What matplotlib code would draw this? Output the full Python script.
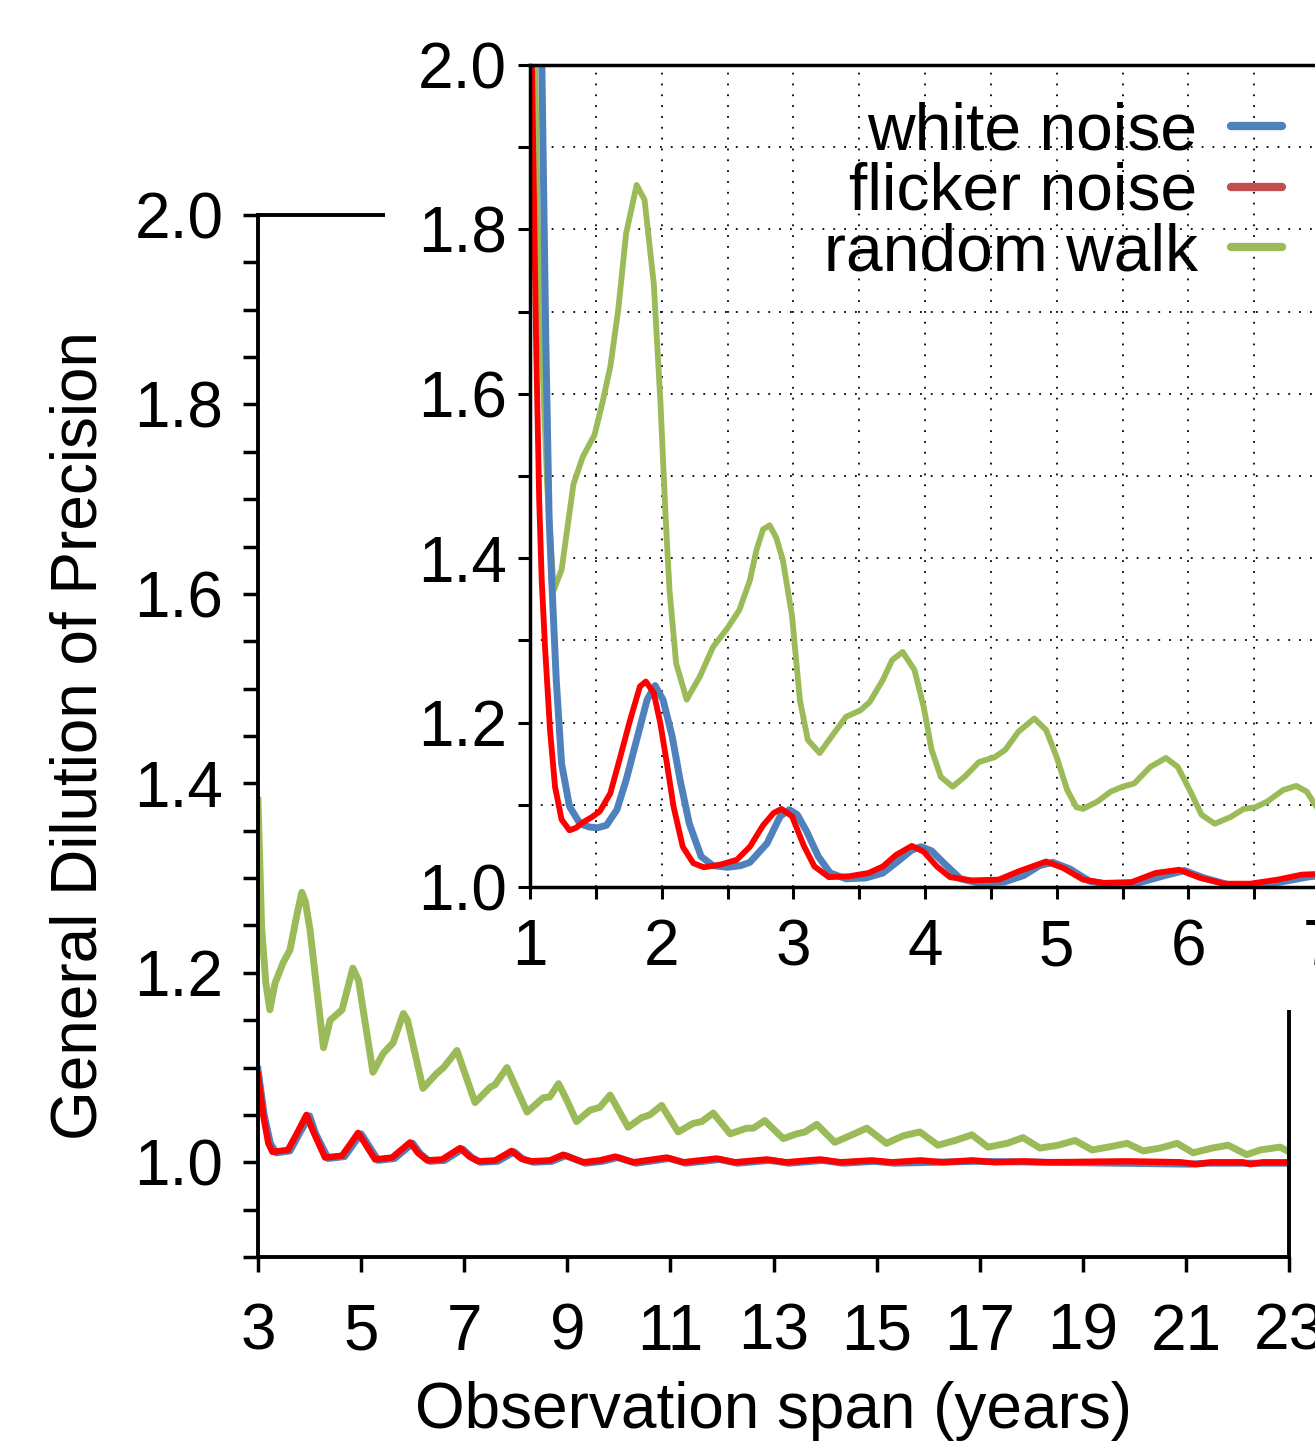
import matplotlib
matplotlib.use('Agg')
import matplotlib.pyplot as plt
from matplotlib.lines import Line2D
from matplotlib.patches import Rectangle
from matplotlib.ticker import MultipleLocator, FixedLocator

plt.rcParams['font.family'] = ['Liberation Sans', 'DejaVu Sans']
plt.rcParams['font.size'] = 46

labels = ['white noise', 'flicker noise', 'random walk']
line_colors = ['#4F81BD', '#FF0000', '#9BBB59']
legend_colors = ['#4F81BD', '#C0504D', '#9BBB59']

# ---- main panel (observation span 3-23 years) ----
main_green_x = [3.00, 3.07, 3.15, 3.23, 3.33, 3.49, 3.62, 3.75, 3.85, 3.92, 4.01, 4.27, 4.40, 4.63,
                4.84, 4.95, 5.23, 5.43, 5.62, 5.82, 5.90, 6.20, 6.47, 6.60, 6.86, 7.21, 7.50, 7.60,
                7.83, 8.22, 8.53, 8.66, 8.83, 8.96, 9.18, 9.44, 9.63, 9.83, 10.18, 10.44, 10.60,
                10.83, 11.15, 11.44, 11.61, 11.83, 12.16, 12.48, 12.61, 12.83, 13.19, 13.45, 13.61,
                13.84, 14.19, 14.48, 14.81, 15.19, 15.52, 15.84, 16.19, 16.52, 16.85, 17.16, 17.53,
                17.84, 18.17, 18.52, 18.85, 19.18, 19.49, 19.86, 20.17, 20.50, 20.83, 21.14, 21.51,
                21.82, 22.18, 22.44, 22.83, 23.00]
main_green_y = [1.382, 1.248, 1.190, 1.161, 1.189, 1.211, 1.224, 1.260, 1.285, 1.275, 1.245, 1.121,
                1.150, 1.161, 1.205, 1.192, 1.095, 1.115, 1.126, 1.157, 1.150, 1.078, 1.094, 1.100,
                1.118, 1.063, 1.079, 1.082, 1.100, 1.053, 1.068, 1.069, 1.083, 1.069, 1.043, 1.055,
                1.058, 1.071, 1.037, 1.047, 1.050, 1.060, 1.032, 1.041, 1.043, 1.052, 1.030, 1.036,
                1.036, 1.044, 1.025, 1.030, 1.032, 1.040, 1.021, 1.028, 1.036, 1.020, 1.028, 1.032,
                1.018, 1.023, 1.029, 1.016, 1.020, 1.026, 1.015, 1.018, 1.023, 1.013, 1.016, 1.020,
                1.012, 1.015, 1.020, 1.010, 1.015, 1.018, 1.008, 1.013, 1.016, 1.011]

main_red_x = [3.00, 3.10, 3.20, 3.28, 3.58, 3.75, 3.94, 4.05, 4.30, 4.63, 4.80, 4.94, 5.05, 5.27,
              5.60, 5.95, 6.10, 6.28, 6.57, 6.92, 7.10, 7.27, 7.60, 7.92, 8.10, 8.30, 8.66, 8.92,
              9.31, 9.63, 9.93, 10.28, 10.93, 11.25, 11.90, 12.25, 12.87, 13.25, 13.90, 14.30,
              14.90, 15.30, 15.85, 16.30, 16.85, 17.30, 17.85, 18.30, 19.85, 20.90, 21.20, 21.50,
              22.10, 22.25, 22.50, 23.00]
main_red_y = [1.092, 1.050, 1.020, 1.011, 1.013, 1.030, 1.050, 1.035, 1.005, 1.007, 1.020, 1.031,
              1.022, 1.003, 1.005, 1.021, 1.010, 1.002, 1.003, 1.015, 1.006, 1.001, 1.002, 1.012,
              1.004, 1.001, 1.002, 1.008, 1.000, 1.002, 1.006, 1.000, 1.005, 1.000, 1.004, 1.000,
              1.003, 1.000, 1.003, 1.000, 1.002, 1.000, 1.002, 1.000, 1.002, 1.000, 1.001, 1.000,
              1.001, 1.000, 0.998, 1.000, 1.000, 0.998, 1.000, 1.000]

main_blue_x = [3.00, 3.12, 3.24, 3.35, 3.62, 3.82, 4.00, 4.12, 4.36, 4.68, 4.86, 5.00, 5.12, 5.33,
               5.65, 6.00, 6.15, 6.33, 6.62, 6.97, 7.15, 7.32, 7.65, 7.97, 8.15, 8.35, 8.70, 8.97,
               9.35, 9.68, 9.98, 10.33, 10.98, 11.30, 11.95, 12.30, 12.92, 13.30, 13.95, 14.35,
               14.95, 15.35, 16.90, 21.10, 21.40, 23.00]
main_blue_y = [1.098, 1.050, 1.020, 1.010, 1.012, 1.032, 1.049, 1.030, 1.004, 1.006, 1.020, 1.030,
               1.020, 1.002, 1.004, 1.020, 1.009, 1.001, 1.002, 1.014, 1.005, 1.000, 1.001, 1.011,
               1.003, 1.000, 1.001, 1.007, 0.999, 1.001, 1.005, 0.999, 1.004, 0.999, 1.003, 0.999,
               1.002, 0.999, 1.002, 0.999, 1.001, 0.999, 1.001, 0.998, 0.999, 0.999]

# ---- inset panel (observation span 1-7 years) ----
ins_red_x = [1.000, 1.015, 1.046, 1.070, 1.089, 1.114, 1.152, 1.190, 1.240, 1.300, 1.350, 1.405,
             1.470, 1.530, 1.610, 1.680, 1.760, 1.835, 1.880, 1.940, 1.990, 2.040, 2.090, 2.160,
             2.240, 2.320, 2.440, 2.570, 2.670, 2.770, 2.850, 2.910, 2.990, 3.080, 3.160, 3.270,
             3.420, 3.570, 3.680, 3.780, 3.900, 3.990, 4.090, 4.190, 4.350, 4.560, 4.710, 4.920,
             5.050, 5.200, 5.360, 5.570, 5.750, 5.930, 6.090, 6.270, 6.470, 6.680, 6.860, 7.000]
ins_red_y = [2.170, 2.000, 1.665, 1.470, 1.373, 1.292, 1.191, 1.122, 1.082, 1.069, 1.072, 1.079,
             1.085, 1.092, 1.114, 1.155, 1.203, 1.244, 1.250, 1.236, 1.199, 1.150, 1.098, 1.049,
             1.029, 1.024, 1.027, 1.033, 1.049, 1.075, 1.090, 1.095, 1.086, 1.050, 1.025, 1.012,
             1.013, 1.017, 1.025, 1.039, 1.050, 1.043, 1.025, 1.012, 1.008, 1.009, 1.019, 1.031,
             1.023, 1.009, 1.005, 1.006, 1.017, 1.021, 1.011, 1.004, 1.004, 1.009, 1.015, 1.016]

ins_blue_x = [1.050, 1.090, 1.120, 1.145, 1.165, 1.200, 1.240, 1.300, 1.380, 1.450, 1.510, 1.580,
              1.660, 1.730, 1.810, 1.890, 1.950, 2.010, 2.080, 2.140, 2.210, 2.300, 2.390, 2.500,
              2.600, 2.670, 2.800, 2.900, 2.970, 3.030, 3.100, 3.190, 3.280, 3.400, 3.550, 3.680,
              3.800, 3.900, 3.970, 4.050, 4.150, 4.270, 4.400, 4.600, 4.750, 4.870, 4.970, 5.100,
              5.250, 5.400, 5.600, 5.800, 5.970, 6.120, 6.300, 6.500, 6.700, 6.900, 7.000]
ins_blue_y = [2.450, 2.000, 1.665, 1.450, 1.373, 1.250, 1.150, 1.098, 1.077, 1.073, 1.072, 1.075,
              1.094, 1.130, 1.179, 1.228, 1.245, 1.228, 1.183, 1.130, 1.077, 1.037, 1.026, 1.024,
              1.026, 1.030, 1.053, 1.086, 1.094, 1.088, 1.068, 1.037, 1.017, 1.010, 1.011, 1.017,
              1.032, 1.045, 1.049, 1.044, 1.028, 1.010, 1.005, 1.006, 1.014, 1.026, 1.030, 1.022,
              1.007, 1.003, 1.004, 1.013, 1.020, 1.011, 1.003, 1.002, 1.006, 1.012, 1.014]

ins_green_x = [1.00, 1.04, 1.06, 1.09, 1.13, 1.18, 1.24, 1.33, 1.40, 1.49, 1.55, 1.61, 1.67, 1.73,
               1.81, 1.87, 1.94, 1.99, 2.03, 2.06, 2.11, 2.19, 2.29, 2.39, 2.50, 2.59, 2.67, 2.72,
               2.77, 2.82, 2.87, 2.92, 2.99, 3.05, 3.11, 3.20, 3.29, 3.40, 3.51, 3.58, 3.68, 3.75,
               3.83, 3.92, 3.99, 4.05, 4.12, 4.21, 4.30, 4.41, 4.53, 4.61, 4.71, 4.83, 4.92, 5.00,
               5.08, 5.15, 5.20, 5.31, 5.41, 5.50, 5.59, 5.71, 5.83, 5.92, 6.01, 6.10, 6.20, 6.32,
               6.42, 6.51, 6.60, 6.72, 6.82, 6.90, 6.95, 7.00]
ins_green_y = [2.350, 2.000, 1.800, 1.653, 1.490, 1.361, 1.386, 1.490, 1.523, 1.550, 1.589, 1.633,
               1.702, 1.795, 1.854, 1.836, 1.734, 1.592, 1.450, 1.360, 1.272, 1.228, 1.256, 1.292,
               1.315, 1.337, 1.373, 1.410, 1.435, 1.440, 1.425, 1.398, 1.330, 1.227, 1.179, 1.163,
               1.183, 1.207, 1.215, 1.225, 1.252, 1.276, 1.286, 1.264, 1.219, 1.167, 1.134, 1.122,
               1.134, 1.152, 1.158, 1.167, 1.189, 1.205, 1.191, 1.158, 1.118, 1.097, 1.095, 1.104,
               1.116, 1.122, 1.126, 1.146, 1.157, 1.146, 1.118, 1.088, 1.077, 1.085, 1.095, 1.097,
               1.104, 1.118, 1.123, 1.116, 1.103, 1.092]

W, H = 1315, 1449
fig = plt.figure(figsize=(W / 100, H / 100), dpi=100)

# main axes
ax = fig.add_axes([258 / W, 1 - 1257 / H, (1289 - 258) / W, (1257 - 215) / H], zorder=0)
ax.plot(main_green_x, main_green_y, color=line_colors[2], lw=5, solid_joinstyle='round')
ax.plot(main_blue_x, main_blue_y, color=line_colors[0], lw=5, solid_joinstyle='round')
ax.plot(main_red_x, main_red_y, color=line_colors[1], lw=4.6, solid_joinstyle='round')
ax.set_xlim(3, 23)
ax.set_ylim(0.9, 2.0)
ax.xaxis.set_major_locator(FixedLocator(list(range(3, 24, 2))))
ax.yaxis.set_major_locator(FixedLocator([1.0, 1.2, 1.4, 1.6, 1.8, 2.0]))
ax.yaxis.set_minor_locator(MultipleLocator(0.05))
ax.yaxis.set_major_formatter(lambda v, p: '%.1f' % v)
ax.tick_params(axis='both', which='both', direction='out', length=11, width=2.5)
ax.tick_params(axis='x', pad=22)
ax.tick_params(axis='y', pad=14)
for s in ax.spines.values():
    s.set_linewidth(2.8)
ax.set_xlabel('Observation span (years)', labelpad=13)
ax.set_ylabel('General Dilution of Precision', labelpad=18)

# white background behind the inset
fig.add_artist(Rectangle((385 / W, 1 - 1010 / H), 1 - 385 / W, 1010 / H,
                         transform=fig.transFigure, facecolor='white', edgecolor='none', zorder=1))

# inset axes
ax2 = fig.add_axes([530 / W, 1 - 887 / H, (1320 - 530) / W, (887 - 65) / H], zorder=2)
ax2.plot(ins_green_x, ins_green_y, color=line_colors[2], lw=4.2, solid_joinstyle='round')
ax2.plot(ins_blue_x, ins_blue_y, color=line_colors[0], lw=5, solid_joinstyle='round')
ax2.plot(ins_red_x, ins_red_y, color=line_colors[1], lw=4.2, solid_joinstyle='round')
ax2.set_xlim(1, 7)
ax2.set_ylim(1.0, 2.0)
ax2.xaxis.set_major_locator(MultipleLocator(1))
ax2.xaxis.set_minor_locator(MultipleLocator(0.5))
ax2.yaxis.set_major_locator(FixedLocator([1.0, 1.2, 1.4, 1.6, 1.8, 2.0]))
ax2.yaxis.set_minor_locator(MultipleLocator(0.1))
ax2.yaxis.set_major_formatter(lambda v, p: '%.1f' % v)
ax2.tick_params(axis='both', which='both', direction='out', length=8.5, width=2.2)
ax2.tick_params(axis='x', pad=14)
ax2.tick_params(axis='y', pad=8)
ax2.grid(True, which='both', color='black', linestyle=(0, (1, 5)), linewidth=1.3)
ax2.set_axisbelow(True)
for s in ax2.spines.values():
    s.set_linewidth(2.5)

handles = [Line2D([], [], color=c, lw=6, solid_capstyle='round') for c in legend_colors]
ax2.legend(handles, labels, loc='upper right', bbox_to_anchor=(1282 / W, 1 - 101 / H),
           bbox_transform=fig.transFigure, frameon=False, markerfirst=False,
           handlelength=0.78, handletextpad=0.5, labelspacing=-0.02,
           borderpad=0, borderaxespad=0, fontsize=47.5)

fig.savefig('out.png', dpi=100, facecolor='white')
